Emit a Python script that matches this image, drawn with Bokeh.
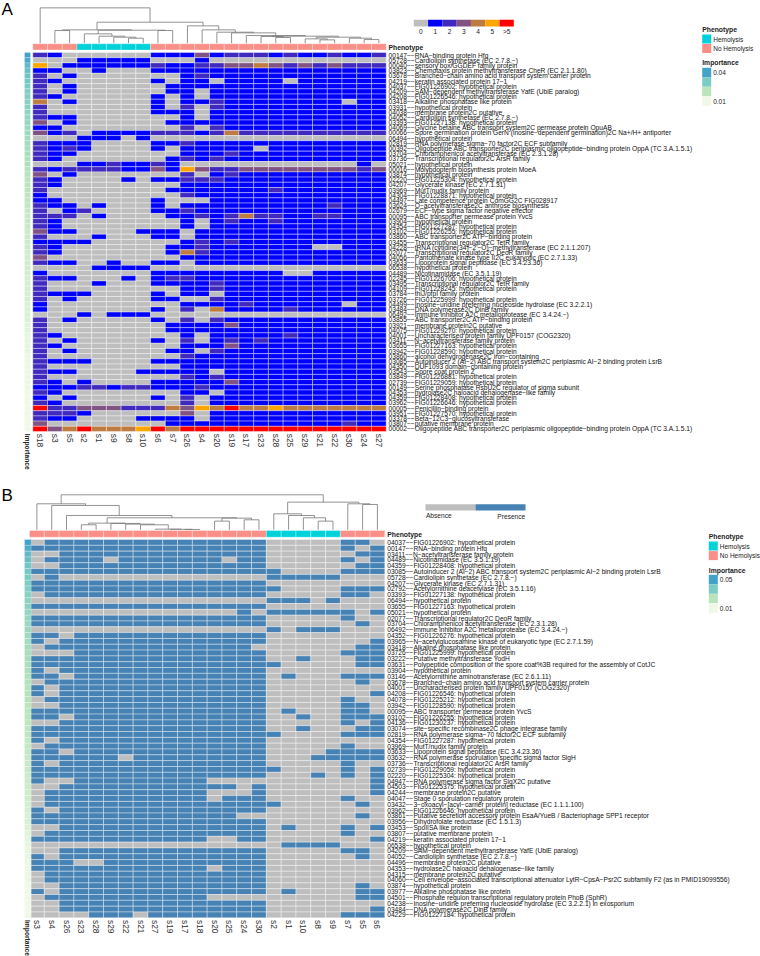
from bokeh.core.properties import value
from bokeh.embed import file_html
from bokeh.plotting import figure
from bokeh.resources import INLINE

FONT = "Liberation Sans"
CELL_COLORS = ["#BEBEBE", "#0000FF", "#4029BF", "#805383", "#BF7C40", "#FFA500", "#FF0000"]
PRESENCE_COLORS = ["#BEBEBE", "#4682B4"]
HEMO, NOHEMO = "#00D2DA", "#FA8F88"
GNBU = ["#F0F9E8", "#BAE4BC", "#7BCCC4", "#43A2CA"]

a_cols = ["s18","s3","s5","s2","s1","s9","s8","s10","s6","s7","s26","s4","s20","s19","s17","s23","s28","s25","s29","s21","s22","s30","s24","s27"]
a_pheno = [0,0,0,1,1,1,1,1] + [0]*16
a_labels = """00147--RNA-binding protein Hfq
05728--Cardiolipin synthetase (EC 2.7.8.-)
00040--sensory box/GGDEF family protein
03823--Chemotaxis protein methyltransferase CheR (EC 2.1.1.80)
03678--Branched-chain amino acid transport system carrier protein
04219--keratin associated protein 17-1
04037--FIG01226902: hypothetical protein
04209--SAM-dependent methyltransferase YafE (UbiE paralog)
04208--FIG01226546: hypothetical protein
03418--Alkaline phosphatase like protein
03931--hypothetical protein
04038--membrane protein2C putative
04052--Cardiolipin synthetase (EC 2.7.8.-)
03393--FIG01227138: hypothetical protein
04069--Glycine betaine ABC transport system2C permease protein OpuAB
00066--Spore germination protein GerN (inosine-dependent germination)2C Na+/H+ antiporter
06494--hypothetical protein
02819--RNA polymerase sigma-70 factor2C ECF subfamily
00392--Oligopeptide ABC transporter2C periplasmic oligopeptide-binding protein OppA (TC 3.A.1.5.1)
03704--Chloramphenicol acetyltransferase (EC 2.3.1.28)
03736--Transcriptional regulator2C ArsR family
05021--hypothetical protein
00016--Molybdopterin biosynthesis protein MoeA
03874--hypothetical protein
02220--FIG01225304: hypothetical protein
04207--Glycerate kinase (EC 2.7.1.31)
03969--MutT/nudix family protein
04304--FIG01228871: hypothetical protein
04497--Late competence protein ComGG2C FIG028917
03624--O-acetyltransferase2C anthrose biosynthesis
02679--ECF-type sigma factor negative effector
00095--ABC transporter permease protein YvcS
03904--hypothetical protein
04354--FIG01227287: hypothetical protein
03102--FIG01226255: hypothetical protein
03860--ABC transporter2C ATP-binding protein
03455--Transcriptional regulator2C TetR family
04228--tRNA (cytidine(34)-2'-O)-methyltransferase (EC 2.1.1.207)
02077--Transcriptional regulator2C DeoR family
04056--Pantothenate kinase type II2C eukaryotic (EC 2.7.1.33)
03633--Lipoprotein signal peptidase (EC 3.4.23.36)
06538--hypothetical protein
04489--Nicotinamidase (EC 3.5.1.19)
02245--FIG01226706: hypothetical protein
03495--Transcriptional regulator2C TetR family
04109--FIG01228245: hypothetical protein
03784--thiJ/pfpI family protein
03726--FIG01225999: hypothetical protein
04499--Inosine-uridine preferring nucleoside hydrolase (EC 3.2.2.1)
03484--DNA polymerase2C DinB family
06492--Immune inhibitor A2C metalloprotease (EC 3.4.24.-)
03855--ABC transporter2C ATP-binding protein
03921--membrane protein2C putative
04075--FIG01229270: hypothetical protein
04001--Uncharacterised protein family UPF0157 (COG2320)
03411--N-acetyltransferase family protein
03655--FIG01227163: hypothetical protein
03942--FIG01228590: hypothetical protein
03860--alcohol dehydrogenase2C iron-containing
03085--Autoinducer 2 (AI-2) ABC transport system2C periplasmic AI-2 binding protein LsrB
04350--DUF1093 domain-containing protein
03543--Spore coat protein Z
03849--FIG01226881: hypothetical protein
02739--FIG01229059: hypothetical protein
00149--Serine phosphatase RsbU2C regulator of sigma subunit
04353--hydrolase2C haloacid dehalogenase-like family
04359--FIG01228408: hypothetical protein
03962--FIG01226646: hypothetical protein
00005--Penicillin-binding protein
03951--FIG01227570: hypothetical protein
03378--Beta-12C3-glucosyltransferase
03807--putative membrane protein
00002--Oligopeptide ABC transporter2C periplasmic oligopeptide-binding protein OppA (TC 3.A.1.5.1)""".split("\n")
a_rows = [
"210 00000 1113 122212112112","000 11111 0001 000000000000","501 11111 2112 233432323222","110 01000 1111 111111111111",
"201 00000 0012 111111111111","210 00000 1011 011110111111","201 00000 0111 111111111111","201 00000 0110 111111111111",
"210 00000 1010 111111111111","401 00000 1011 211111111011","200 00000 1020 211111111111","200 00000 1110 111111111111",
"211 00000 0010 111111111111","301 00000 0111 111111111111","110 00000 0020 211111111111","312 01111 2221 242222222222",
"000 11101 0000 000000000000","211 10000 1121 111111111111","212 10000 1011 111011111111","211 00000 0011 121111111111",
"210 00000 0121 211111111111","000 11211 2100 000000000010","212 22211 3153 223333333323","301 00000 0020 121111111111",
"210 00010 1122 211111111111","210 00000 0011 111111111111","200 00000 0111 111121111111","100 00000 0021 111111111111",
"110 00000 1000 111111111111","211 01000 1011 111111112111","201 20000 1121 111111111111","222 01000 0112 124221122111",
"210 00000 0010 121121111111","210 00000 0010 111111111111","311 00001 1101 111111111111","200 01000 1101 111111111111",
"111 10000 0012 121111111111","210 00000 0112 111111100111","210 00000 0142 111111111111","300 00000 0011 111111111111",
"211 00100 1101 111111111111","000 01111 0000 000000000000","100 00000 1111 111110011111","211 00010 1221 111111111111",
"200 01000 1111 211111111111","200 00000 0011 211111111111","211 10000 1011 011111111111","201 00000 1100 211111111111",
"100 00000 0011 112111111011","100 00000 1020 411112111111","000 10111 0000 000000000000","201 00000 1020 211111111111",
"200 00000 0111 131111111111","200 00000 0111 111111111111","210 00000 0010 111112111111","201 00000 1020 121211111111",
"210 00000 0011 131111111111","201 00000 0110 211111111111","200 00000 0021 111111111111","211 10000 1111 111111111111",
"200 00000 0011 111111111111","211 00001 1111 011111111111","200 00000 0021 211111111111","210 10000 1111 131111111111",
"111 22122 1112 111111111111","210 00000 0011 011111111111","101 00000 1020 111111111111","210 00000 0020 111111111111",
"622 33322 2435 464454444444","222 10000 0030 111111111111","211 00001 1110 111111111111","300 00000 0111 111111111211",
"634 64445 6466 666666666666",
]
a_importance = [.040,.038,.035,.033,.032,.031,.030,.029,.029,.028,.028,.027,.026,.026,.025,.025,.024,.024,.023,.023,
.022,.022,.021,.021,.020,.020,.020,.019,.019,.019,.018,.018,.018,.018,.017,.017,.017,.017,.016,.016,
.016,.016,.016,.015,.015,.015,.015,.015,.014,.014,.014,.014,.013,.013,.012,.012,.012,.012,.011,.011,
.011,.011,.011,.011,.011,.010,.010,.010,.010,.010,.010,.010,.010]
# merges: (left, right, height); < 100 is a column, >= 100 is an earlier merge
a_merges = [(6,7,15),(5,100,18),(4,101,21),(3,102,28),(8,9,38),(103,104,39),(1,2,38),(106,105,40),
(16,17,17),(15,108,20),(22,23,11),(21,110,15),(19,20,10),(18,112,13),(113,111,18),(109,114,21),
(14,115,23),(13,116,31),(12,117,33),(11,118,40),(10,119,52),(107,120,63),(0,121,106)]

b_cols = ["s3","s4","s26","s23","s28","s29","s22","s21","s27","s19","s17","s18","s20","s25","s24","s30","s2","s1","s10","s8","s9","s7","s5","s6"]
b_pheno = [0]*16 + [1]*5 + [0]*3
b_labels = """04037--FIG01226902: hypothetical protein
00147--RNA-binding protein Hfq
03411--N-acetyltransferase family protein
04489--Nicotinamidase (EC 3.5.1.19)
04359--FIG01228408: hypothetical protein
03085--Autoinducer 2 (AI-2) ABC transport system2C periplasmic AI-2 binding protein LsrB
05728--Cardiolipin synthetase (EC 2.7.8.-)
04207--Glycerate kinase (EC 2.7.1.31)
02792--Acetylornithine deacetylase (EC 3.5.1.16)
03393--FIG01227138: hypothetical protein
06494--hypothetical protein
03655--FIG01227163: hypothetical protein
05021--hypothetical protein
02077--Transcriptional regulator2C DeoR family
03704--Chloramphenicol acetyltransferase (EC 2.3.1.28)
06492--Immune inhibitor A2C metalloprotease (EC 3.4.24.-)
04352--FIG01226276: hypothetical protein
03965--N-acetylglucosamine kinase of eukaryotic type (EC 2.7.1.59)
03418--Alkaline phosphatase like protein
03726--FIG01225999: hypothetical protein
03222--Putative methyltransferase YodH
03631--Polypeptide composition of the spore coat%3B required for the assembly of CotJC
03904--hypothetical protein
03146--Acetylornithine aminotransferase (EC 2.6.1.11)
03678--Branched-chain amino acid transport system carrier protein
04001--Uncharacterised protein family UPF0157 (COG2320)
04208--FIG01226546: hypothetical protein
04078--FIG01225212: hypothetical protein
03942--FIG01228590: hypothetical protein
00095--ABC transporter permease protein YvcS
03102--FIG01226255: hypothetical protein
04136--FIG01230237: hypothetical protein
03074--site-specific recombinase2C phage integrase family
02819--RNA polymerase sigma-70 factor2C ECF subfamily
04354--FIG01227287: hypothetical protein
03969--MutT/nudix family protein
03633--Lipoprotein signal peptidase (EC 3.4.23.36)
03632--RNA polymerase sporulation specific sigma factor SigH
03736--Transcriptional regulator2C ArsR family
02739--FIG01229059: hypothetical protein
02220--FIG01225304: hypothetical protein
04947--RNA polymerase sigma factor SigX2C putative
04503--FIG01225375: hypothetical protein
04244--membrane protein2C putative
04047--Stage 0 sporulation regulatory protein
03432--3-oxoacyl-[acyl-carrier protein] reductase (EC 1.1.1.100)
03962--FIG01226646: hypothetical protein
03861--Putative secretion accessory protein EsaA/YueB / Bacteriophage SPP1 receptor
03956--Dihydrofolate reductase (EC 1.5.1.3)
03453--SpoIISA like protein
03807--putative membrane protein
04219--keratin associated protein 17-1
06538--hypothetical protein
04209--SAM-dependent methyltransferase YafE (UbiE paralog)
04052--Cardiolipin synthetase (EC 2.7.8.-)
04496--membrane protein2C putative
04353--hydrolase2C haloacid dehalogenase-like family
04315--membrane protein2C putative
04060--Cell envelope-associated transcriptional attenuator LytR-CpsA-Psr2C subfamily F2 (as in PMID19099556)
03874--hypothetical protein
03977--Alkaline phosphatase like protein
04501--Phosphate regulon transcriptional regulatory protein PhoB (SphR)
04238--Inosine-uridine preferring nucleoside hydrolase (EC 3.2.2.1) in exosporium
03484--DNA polymerase2C DinB family
04229--FIG01227184: hypothetical protein""".split("\n")
F, Z = "1"*13, "0"*13
b_rows = [
"011"+F+"00000110","111"+F+"00000101","001"+F+"00000011","011"+"1101111111011"+"00000101",
"001"+F+"00000011","111"+F+"10000111","010"+Z+"11111000","111"+F+"00000000",
"111"+F+"10000111","011"+F+"00000110","000"+Z+"11101000","111"+F+"00000000",
"000"+"0000000000010"+"11111101","111"+F+"00000100","111"+F+"00000010","000"+Z+"10111000",
"110"+F+"00000000","101"+F+"00000001","011"+"1111111111110"+"00000011","000"+F+"00000111",
"111"+F+"00100011","111"+F+"10000011","101"+F+"00000000","110"+F+"01000111",
"011"+F+"00000010","101"+F+"00000000","101"+F+"00000001","011"+F+"00000100",
"001"+F+"00000110","111"+F+"01000110","110"+F+"00100111","001"+F+"00000101",
"111"+F+"00100011","111"+F+"10000111","101"+F+"00000000","011"+F+"00000100",
"110"+F+"00001111","111"+"1110111111111"+"00011111","101"+F+"00000100","111"+F+"10000101",
"111"+F+"00010101","100"+"1111111110000"+"00000001","001"+"1111111111101"+"00000001","011"+"1111111110001"+"00000001",
"011"+"1111111110111"+"00000100","011"+F+"10000010","101"+F+"00000000","111"+"1111111111100"+"00000010",
"111"+F+"00000000","001"+F+"01000101","011"+F+"00000100","111"+"1111111110011"+"00000001",
"000"+Z+"01111000","001"+F+"00000110","101"+F+"00000010","111"+"0011111111111"+"00000000",
"111"+"1111111110111"+"00000000","011"+F+"00000000","011"+F+"00000000","001"+F+"00000010",
"101"+F+"01000011","011"+"1111111110000"+"00000011","001"+F+"00000000","001"+F+"00000001",
"000"+"0111011111111"+"00000111",
]
b_importance = [.050,.047,.043,.041,.039,.038,.037,.036,.035,.034,.033,.033,.032,.031,.030,.030,.029,.028,.028,.027,
.027,.026,.026,.025,.025,.024,.024,.024,.023,.023,.023,.022,.022,.022,.021,.021,.021,.020,.020,.020,
.019,.019,.019,.018,.018,.017,.017,.016,.016,.015,.014,.013,.012,.012,.012,.011,.011,.011,.011,.010,
.010,.010,.010,.010,.010]
b_merges = [(3,4,15),(10,11,1),(9,101,1.5),(8,102,2),(7,103,15),(6,104,17),(5,105,19),(100,106,20),
(12,13,26),(14,15,30),(108,109,35),(107,110,36),(2,111,43),(1,112,73),(0,113,78),
(19,20,26),(18,115,36),(17,116,43),(16,117,48),(22,23,76),(21,119,78),(118,120,83),(114,121,105)]

p = figure(width=760, height=956, x_range=(0, 760), y_range=(956, 0), output_backend="svg",
           toolbar_location=None, min_border=0, outline_line_color=None)
p.axis.visible = False
p.grid.visible = False


def txt(x, y, s, size, bold=False, color="#222222", align="left", angle=0):
    p.text(x, y, text=[s] if isinstance(s, str) else s, text_font=value(FONT),
           text_font_size=f"{size}px", text_font_style="bold" if bold else "normal",
           text_color=color, text_align=align, text_baseline="middle", angle=angle, angle_units="deg")


def interp_color(v, vmin, vmax):
    t = (v - vmin) / (vmax - vmin) * 3
    t = min(max(t, 0), 2.9999)
    k = int(t)
    f = t - k
    a = [int(GNBU[k][i:i+2], 16) for i in (1, 3, 5)]
    b = [int(GNBU[k+1][i:i+2], 16) for i in (1, 3, 5)]
    return "#%02X%02X%02X" % tuple(round(a[i] + (b[i] - a[i]) * f) for i in range(3))


def heatmap(rows, cols, labels, importance, merges, pheno, palette, x0, x1, y0, y1, ann_top, ann_bot, dend_base,
            lab_x, vmax, imp_right):
    rows = [r.replace(" ", "") for r in rows]
    assert len(rows) == len(labels) == len(importance), (len(rows), len(labels), len(importance))
    assert all(len(r) == len(cols) for r in rows)
    cw = (x1 - x0) / len(cols)
    rh = (y1 - y0) / len(rows)
    L, R, T, B, C = [], [], [], [], []
    for j, r in enumerate(rows):
        for i, ch in enumerate(r):
            L.append(x0 + i * cw); R.append(x0 + (i + 1) * cw)
            T.append(y0 + j * rh); B.append(y0 + (j + 1) * rh)
            C.append(palette[int(ch)])
    p.quad(left=L, right=R, top=T, bottom=B, fill_color=C, line_color="#FFFFFF", line_width=0.5, line_alpha=0.75)
    # phenotype strip
    p.quad(left=[x0 + i * cw for i in range(len(cols))], right=[x0 + (i + 1) * cw for i in range(len(cols))],
           top=[ann_top] * len(cols), bottom=[ann_bot] * len(cols),
           fill_color=[HEMO if v else NOHEMO for v in pheno], line_color="#FFFFFF", line_width=0.5, line_alpha=0.6)
    # importance strip
    p.quad(left=[24] * len(rows), right=[imp_right] * len(rows), top=[y0 + j * rh for j in range(len(rows))],
           bottom=[y0 + (j + 1) * rh for j in range(len(rows))],
           fill_color=[interp_color(v, 0.01, vmax) for v in importance], line_color="#FFFFFF", line_width=0.4, line_alpha=0.6)
    # row and column labels
    txt([lab_x] * len(labels), [y0 + (j + 0.5) * rh for j in range(len(labels))],
        [s.replace("-", "\u2212") for s in labels], 6.65, color="#111111")
    txt([x0 + (i + 0.5) * cw for i in range(len(cols))], [y1 + 2.2] * len(cols), cols, 8.4, color="#333333", angle=-90)
    txt(27, y1 + 2.2, "Importance", 6.7, bold=True, angle=-90)
    # dendrogram
    nodes = {}
    xs, ys = [], []
    for m, (a, b, h) in enumerate(merges):
        ax = x0 + (a + 0.5) * cw if a < 100 else nodes[a][0]
        ah = 0 if a < 100 else nodes[a][1]
        bx = x0 + (b + 0.5) * cw if b < 100 else nodes[b][0]
        bh = 0 if b < 100 else nodes[b][1]
        nodes[100 + m] = ((ax + bx) / 2, h)
        xs.append([ax, ax, bx, bx])
        ys.append([dend_base - ah / 3, dend_base - h / 3, dend_base - h / 3, dend_base - bh / 3])
    p.multi_line(xs, ys, line_color="#777777", line_width=0.8)


heatmap(a_rows, a_cols, a_labels, a_importance, a_merges, a_pheno, CELL_COLORS,
        32.3, 385.7, 52, 431, 43.3, 49.5, 42.7, 388, 0.04, 30)
heatmap(b_rows, b_cols, b_labels, b_importance, b_merges, b_pheno, PRESENCE_COLORS,
        29, 384.3, 539, 917.3, 530, 536.7, 529.3, 386.7, 0.05, 30.7)

# panel letters
txt(1, 9, "A", 17, color="#000000")
txt(1, 495, "B", 17, color="#000000")
# strip titles
txt(388, 46.6, "Phenotype", 6.8, bold=True)
txt(386.7, 533.7, "Phenotype", 6.8, bold=True)

# count colour key (A)
count_ticks = ["0", "1", "2", "3", "4", "5", ">5"]
w = 100 / 7
p.quad(left=[413.3 + i * w for i in range(7)], right=[413.3 + (i + 1) * w for i in range(7)], top=[19.3] * 7, bottom=[26] * 7,
       fill_color=CELL_COLORS, line_color=None)
txt([413.3 + (i + 0.5) * w for i in range(7)], [30.5] * 7, count_ticks, 6.6, align="center")

# presence key (B)
p.quad(left=[425, 475], right=[475, 525], top=[503.7, 503.7], bottom=[510, 510], fill_color=PRESENCE_COLORS, line_color=None)
txt(438.3, 515, "Absence", 6.6, align="center")
txt(510.8, 515.5, "Presence", 6.6, align="center")


def legends(x, y_title, pheno_top, imp_title, imp_top, imp_labels):
    txt(x, y_title, "Phenotype", 6.8, bold=True)
    p.quad(left=[x, x], right=[x + 9, x + 9], top=[pheno_top, pheno_top + 9.6], bottom=[pheno_top + 9, pheno_top + 18.6],
           fill_color=[HEMO, NOHEMO], line_color=None)
    txt(x + 11, pheno_top + 4.6, "Hemolysis", 6.5)
    txt(x + 11, pheno_top + 14.2, "No Hemolysis", 6.5)
    txt(x, imp_title, "Importance", 6.8, bold=True)
    h = 9.5
    colors = GNBU[::-1]
    p.quad(left=[x] * 4, right=[x + 9] * 4, top=[imp_top + i * h for i in range(4)], bottom=[imp_top + (i + 1) * h for i in range(4)],
           fill_color=colors, line_color=None)
    txt(x + 11, imp_top + 4.7, imp_labels[0], 6.5)
    txt(x + 11, imp_top + 33.3, imp_labels[1], 6.5)


legends(701.7, 29, 34, 62.3, 67.3, ["0.04", "0.01"])
legends(708.3, 536, 541, 569.7, 574.3, ["0.05", "0.01"])

open("out.html", "w").write(file_html(p, INLINE))
